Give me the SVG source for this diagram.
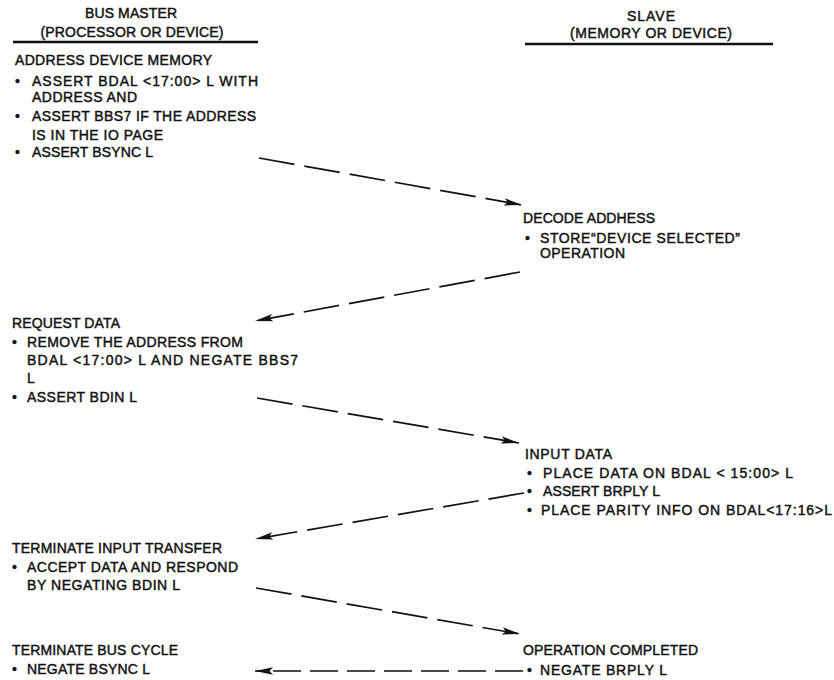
<svg xmlns="http://www.w3.org/2000/svg" width="834" height="680" viewBox="0 0 834 680">
<style>
text{font-family:"Liberation Sans",Arial,sans-serif;font-size:14px;fill:#111;stroke:#111;stroke-width:0.45}
.c{text-anchor:middle}
.rule{stroke:#111;stroke-width:2.4}
.conn{fill:none;stroke:#111;stroke-width:1.7;stroke-dasharray:36 10}
.short{stroke-dasharray:28 9}
</style>
<defs>
<marker id="ah" markerUnits="userSpaceOnUse" markerWidth="20" markerHeight="10" refX="18" refY="4.5" orient="auto">
<path d="M0,0.8 L18,4.5 L0,8.2 L3.5,4.5 z" fill="#111"/>
</marker>
</defs>
<rect width="834" height="680" fill="#fff"/>

<g id="master-header">
<text class="c" x="131" y="18" textLength="92" lengthAdjust="spacing">BUS MASTER</text>
<text class="c" x="132" y="37" textLength="183" lengthAdjust="spacing">(PROCESSOR OR DEVICE)</text>
<line class="rule" x1="13" y1="42" x2="258" y2="42"/>
</g>

<g id="slave-header">
<text class="c" x="651" y="21" textLength="48" lengthAdjust="spacing">SLAVE</text>
<text class="c" x="651" y="38" textLength="162" lengthAdjust="spacing">(MEMORY OR DEVICE)</text>
<line class="rule" x1="525" y1="44" x2="773" y2="44"/>
</g>

<g id="address-device-memory">
<text x="15" y="65" textLength="197" lengthAdjust="spacing">ADDRESS DEVICE MEMORY</text>
<text x="15" y="86">•</text>
<text x="32" y="86" textLength="226" lengthAdjust="spacing">ASSERT BDAL &lt;17:00&gt;  L WITH</text>
<text x="32" y="102" textLength="105" lengthAdjust="spacing">ADDRESS AND</text>
<text x="15" y="121">•</text>
<text x="32" y="121" textLength="224" lengthAdjust="spacing">ASSERT BBS7 IF THE ADDRESS</text>
<text x="32" y="140" textLength="131" lengthAdjust="spacing">IS IN THE IO PAGE</text>
<text x="15" y="157">•</text>
<text x="32" y="157" textLength="121" lengthAdjust="spacing">ASSERT BSYNC L</text>
</g>

<g id="decode-address">
<text x="523" y="223" textLength="132" lengthAdjust="spacing">DECODE ADDHESS</text>
<text x="525" y="243">•</text>
<text x="540" y="243" textLength="200" lengthAdjust="spacing">STORE“DEVICE SELECTED”</text>
<text x="540" y="258" textLength="85" lengthAdjust="spacing">OPERATION</text>
</g>

<g id="request-data">
<text x="12" y="328" textLength="108" lengthAdjust="spacing">REQUEST DATA</text>
<text x="12" y="347">•</text>
<text x="27" y="347" textLength="216" lengthAdjust="spacing">REMOVE THE ADDRESS FROM</text>
<text x="27" y="365" textLength="271" lengthAdjust="spacing">BDAL &lt;17:00&gt; L AND NEGATE BBS7</text>
<text x="27" y="383">L</text>
<text x="12" y="402">•</text>
<text x="27" y="402" textLength="110" lengthAdjust="spacing">ASSERT BDIN L</text>
</g>

<g id="input-data">
<text x="525" y="459" textLength="87" lengthAdjust="spacing">INPUT DATA</text>
<text x="527" y="478">•</text>
<text x="543" y="478" textLength="250" lengthAdjust="spacing">PLACE DATA ON BDAL &lt; 15:00&gt;  L</text>
<text x="527" y="496">•</text>
<text x="543" y="496" textLength="117" lengthAdjust="spacing">ASSERT BRPLY L</text>
<text x="527" y="515">•</text>
<text x="541" y="515" textLength="291" lengthAdjust="spacing">PLACE PARITY INFO  ON  BDAL&lt;17:16&gt;L</text>
</g>

<g id="terminate-input-transfer">
<text x="12" y="553" textLength="210" lengthAdjust="spacing">TERMINATE INPUT TRANSFER</text>
<text x="12" y="572">•</text>
<text x="27" y="572" textLength="211" lengthAdjust="spacing">ACCEPT DATA AND RESPOND</text>
<text x="27" y="590" textLength="153" lengthAdjust="spacing">BY NEGATING BDIN L</text>
</g>

<g id="operation-completed">
<text x="523" y="655" textLength="175" lengthAdjust="spacing">OPERATION COMPLETED</text>
<text x="527" y="675">•</text>
<text x="540" y="675" textLength="127" lengthAdjust="spacing">NEGATE BRPLY L</text>
</g>

<g id="terminate-bus-cycle">
<text x="12" y="655" textLength="166" lengthAdjust="spacing">TERMINATE BUS CYCLE</text>
<text x="12" y="674">•</text>
<text x="27" y="674" textLength="123" lengthAdjust="spacing">NEGATE BSYNC L</text>
</g>

<g id="connectors">
<line class="conn" x1="259" y1="158" x2="522" y2="205" marker-end="url(#ah)"/>
<line class="conn" x1="520" y1="272" x2="255" y2="321" marker-end="url(#ah)"/>
<line class="conn" x1="257" y1="398" x2="519" y2="443" marker-end="url(#ah)"/>
<line class="conn" x1="524" y1="493" x2="255" y2="539" marker-end="url(#ah)"/>
<line class="conn" x1="256" y1="588" x2="520" y2="634" marker-end="url(#ah)"/>
<line class="conn short" x1="523" y1="671" x2="255" y2="671" marker-end="url(#ah)"/>
</g>
</svg>
